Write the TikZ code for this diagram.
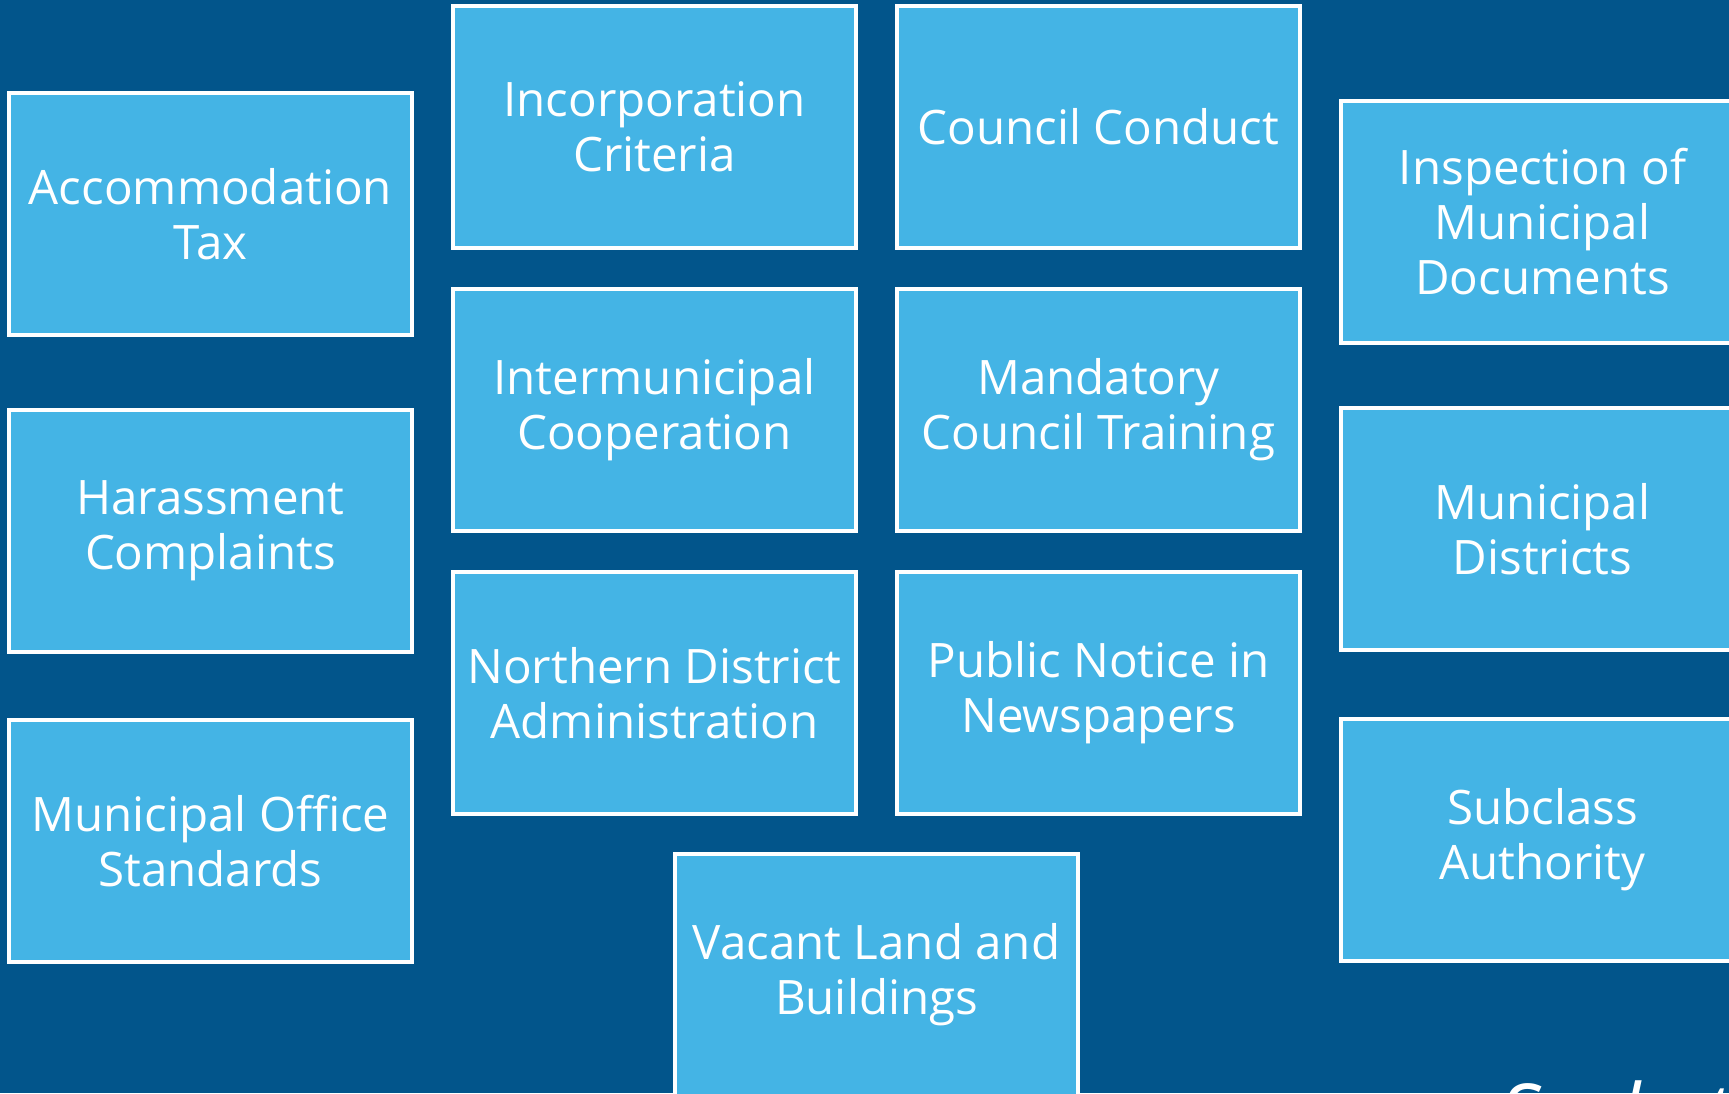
\documentclass[tikz,border=0pt]{standalone}
\usepackage{fontspec}
\setmainfont{Open Sans}
\definecolor{deepblue}{HTML}{02558B}
\definecolor{skyblue}{HTML}{44B4E5}
\tikzstyle{topicbox}=[draw=white,line width=4pt,fill=skyblue,text=white,align=center,
  minimum width=403pt,minimum height=242pt,inner sep=0pt,
  font=\fontsize{47.5}{55}\selectfont]
\newcommand{\topic}[3]{% Syntax: name (x,y) text
  \node[topicbox] (#1) at #2 {#3};
}

\begin{document}
\begin{tikzpicture}[x=1pt,y=-1pt]
	\fill[deepblue] (0,0) rectangle (1729,1093);
	\useasboundingbox (0,0) rectangle (1729,1093);
	\begin{scope}
	\clip (0,0) rectangle (1729,1093);
	% left column
	\topic{accom}{(210.5,214)}{Accommodation\\Tax}
	\topic{harass}{(210.5,531)}{Harassment\\Complaints}
	\topic{office}{(210.5,841)}{Municipal Office\\Standards}
	% middle columns
	\topic{incorp}{(654.5,127)}{Incorporation\\Criteria}
	\topic{inter}{(654.5,410)}{Intermunicipal\\Cooperation}
	\topic{north}{(654.5,693)}{Northern District\\Administration}
	\topic{conduct}{(1098.5,127)}{Council Conduct}
	\topic{training}{(1098.5,410)}{Mandatory\\Council Training}
	\topic{notice}{(1098.5,693)}{Public Notice in\\Newspapers}
	\topic{vacant}{(876.5,975)}{Vacant Land and\\Buildings}
	% right column, cut at the edge
	\topic{inspect}{(1542.5,222)}{Inspection of\\Municipal\\Documents}
	\topic{districts}{(1542.5,529)}{Municipal\\Districts}
	\topic{subclass}{(1542.5,840)}{Subclass\\Authority}
	\node[anchor=base west,text=white,inner sep=0pt,
	  font=\fontsize{80}{80}\selectfont\itshape] (sask) at (1500,1141) {Saskatchewan};
	\end{scope}
\end{tikzpicture}
\end{document}
